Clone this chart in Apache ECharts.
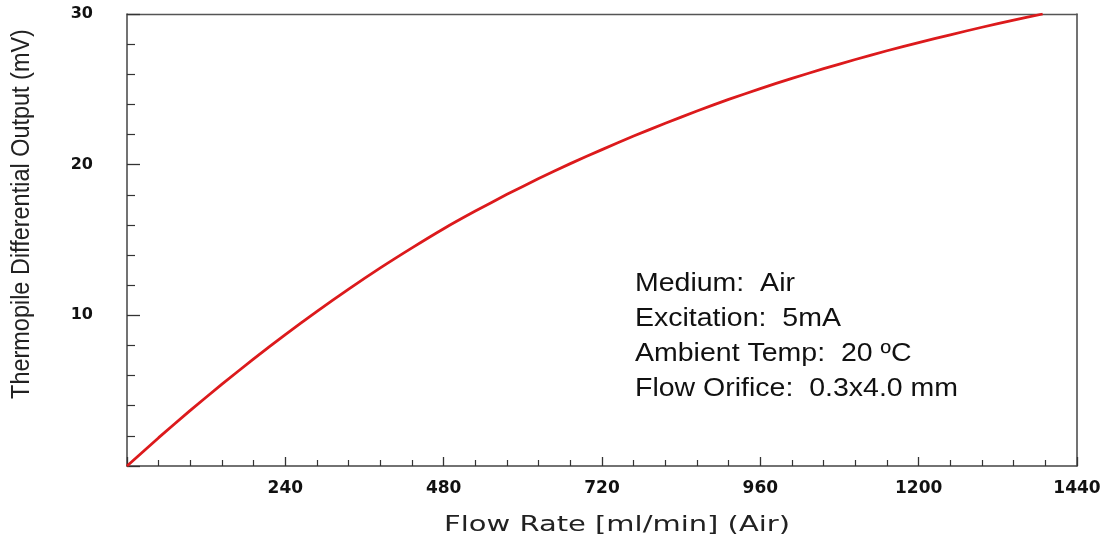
<!DOCTYPE html>
<html>
<head>
<meta charset="utf-8">
<script src="https://cdn.jsdelivr.net/npm/echarts@6/dist/echarts.min.js"></script>
<style>
html,body{margin:0;padding:0;background:#fff;}
#c{width:1112px;height:548px;}
</style>
</head>
<body>
<div id="c"></div>
<script>
// Flow rate [ml/min]
const flowRate = [0, 48, 96, 144, 192, 240, 288, 336, 384, 432, 480, 528, 576, 624, 672, 720, 768, 816, 864, 912, 960, 1008, 1056, 1104, 1152, 1200, 1248, 1296, 1344, 1388];
// Thermopile differential output [mV]
const output = [0, 1.88, 3.69, 5.43, 7.11, 8.72, 10.26, 11.74, 13.15, 14.48, 15.75, 16.92, 18.03, 19.08, 20.07, 21.0, 21.9, 22.75, 23.56, 24.33, 25.05, 25.73, 26.37, 26.98, 27.56, 28.1, 28.62, 29.12, 29.6, 30.0];
const xTicks = [240, 480, 720, 960, 1200, 1440];
const yTicks = [10, 20, 30];
const infoLines = ['Medium:  Air', 'Excitation:  5mA', 'Ambient Temp:  20 \u00BAC', 'Flow Orifice:  0.3x4.0 mm'];
const xTitle = 'Flow Rate [ml/min] (Air)';
const yTitle = 'Thermopile Differential Output (mV)';

const chart = echarts.init(document.getElementById('c'), null, {renderer: 'canvas'});
const pts = flowRate.map((x, i) => [x, output[i]]);
const labelFont = {fontFamily: 'DejaVu Sans', fontWeight: 'bold', color: '#111'};

const graphics = [
  {type: 'text', x: 617, y: 526, scaleX: 1.38, silent: true,
   style: {text: xTitle, x: 0, y: 0, align: 'center', verticalAlign: 'middle',
           font: '21px "DejaVu Sans"', fill: '#222'}},
  {type: 'text', x: 22, y: 214, rotation: Math.PI / 2, scaleX: 1.02, scaleY: 1.1, silent: true,
   style: {text: yTitle, x: 0, y: 0, align: 'center', verticalAlign: 'middle',
           font: '23px "Liberation Sans"', fill: '#222'}}
];
infoLines.forEach((t, i) => {
  graphics.push({type: 'text', x: 635, y: 284 + i * 35, scaleX: 1.14, silent: true,
    style: {text: t, x: 0, y: 0, align: 'left', verticalAlign: 'middle',
            font: '25px "Liberation Sans"', fill: '#111'}});
});

chart.setOption({
  animation: false,
  backgroundColor: '#fff',
  grid: {left: 127, right: 35, top: 14, bottom: 82, containLabel: false},
  xAxis: [{
    type: 'value', min: 0, max: 1440, interval: 240,
    axisLine: {show: true, onZero: false, lineStyle: {color: '#444', width: 1.5}},
    axisTick: {show: true, inside: true, length: 9, lineStyle: {color: '#333', width: 1.3}},
    minorTick: {show: true, splitNumber: 5, length: 6, lineStyle: {color: '#333', width: 1.2}},
    splitLine: {show: false},
    axisLabel: Object.assign({margin: 14, fontSize: 17, formatter: v => xTicks.includes(v) ? String(v) : ''}, labelFont)
  }, {
    type: 'value', min: 0, max: 1440, position: 'top',
    axisLine: {show: true, onZero: false, lineStyle: {color: '#555', width: 1.3}},
    axisTick: {show: false}, axisLabel: {show: false}, splitLine: {show: false}
  }],
  yAxis: [{
    type: 'value', min: 0, max: 30, interval: 10,
    axisLine: {show: true, onZero: false, lineStyle: {color: '#444', width: 1.5}},
    axisTick: {show: true, inside: true, length: 13, lineStyle: {color: '#333', width: 1.3}},
    minorTick: {show: true, splitNumber: 5, length: 8, lineStyle: {color: '#333', width: 1.2}},
    splitLine: {show: false},
    axisLabel: Object.assign({margin: 34, fontSize: 16, formatter: v => yTicks.includes(v) ? String(v) : ''}, labelFont)
  }, {
    type: 'value', min: 0, max: 30, position: 'right',
    axisLine: {show: true, onZero: false, lineStyle: {color: '#444', width: 1.5}},
    axisTick: {show: false}, axisLabel: {show: false}, splitLine: {show: false}
  }],
  series: [{
    type: 'line', data: pts, showSymbol: false, smooth: 0.2,
    lineStyle: {color: '#dc1a1c', width: 2.8}, z: 3
  }],
  graphic: graphics
});
</script>
</body>
</html>
